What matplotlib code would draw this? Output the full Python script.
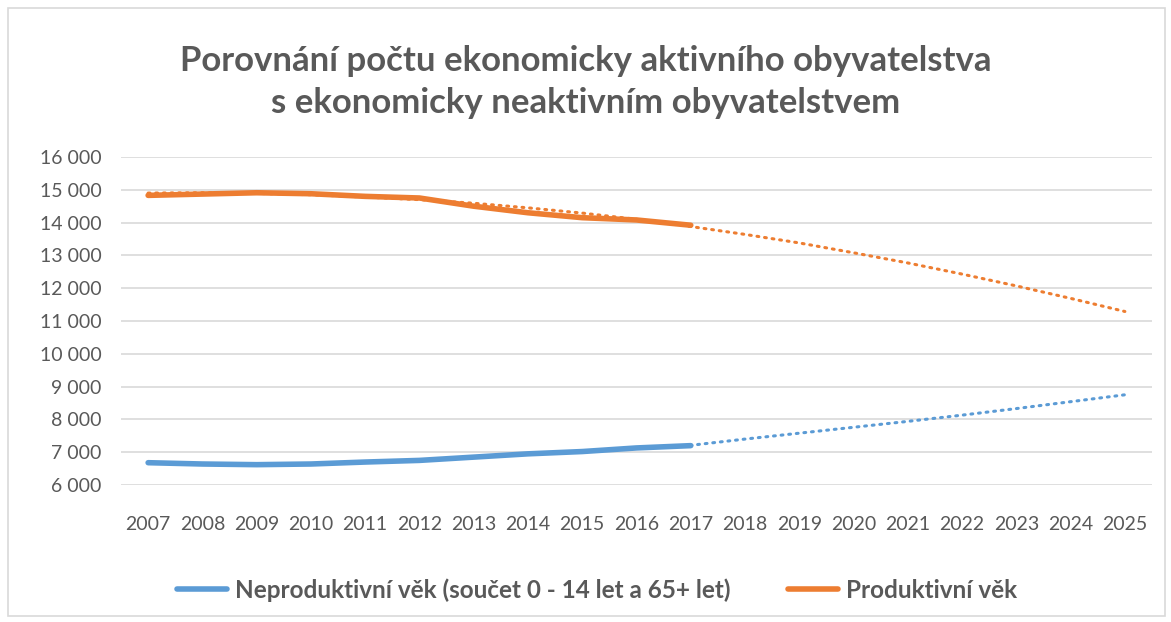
import matplotlib.pyplot as plt
from matplotlib.lines import Line2D

roky = list(range(2007, 2026))
roky_hist = list(range(2007, 2018))

# skutecne hodnoty 2007-2017
neproduktivni = [6680, 6640, 6620, 6640, 6700, 6750, 6850, 6950, 7020, 7130, 7200]
produktivni = [14830, 14870, 14910, 14880, 14800, 14750, 14500, 14300, 14150, 14080, 13920]

# spojnice trendu 2007-2025
trend_neprod = [6680, 6650, 6630, 6650, 6700, 6760, 6850, 6950, 7030, 7120, 7210,
                7400, 7580, 7760, 7940, 8130, 8330, 8540, 8750]
trend_prod = [14900, 14910, 14890, 14850, 14780, 14700, 14590, 14450, 14290, 14100, 13880,
              13640, 13380, 13080, 12770, 12430, 12070, 11690, 11290]

modra = '#5b9bd5'
oranz = '#ed7d31'
seda = '#595959'

plt.rcParams['font.family'] = ['Lato', 'DejaVu Sans']

fig = plt.figure(figsize=(11.71, 6.22), dpi=100)
ax = fig.add_axes([121 / 1171, 1 - 485 / 622, (1152 - 121) / 1171, (485 - 157) / 622])

ax.plot(roky, trend_neprod, color=modra, lw=2.2, ls=(0, (0.6, 1.9)), dash_capstyle='round', zorder=2)
ax.plot(roky, trend_prod, color=oranz, lw=2.2, ls=(0, (0.6, 1.9)), dash_capstyle='round', zorder=2)
ax.plot(roky_hist, neproduktivni, color=modra, lw=4, solid_capstyle='round', zorder=3)
ax.plot(roky_hist, produktivni, color=oranz, lw=4, solid_capstyle='round', zorder=3)

ax.set_xlim(2006.5, 2025.5)
ax.set_ylim(6000, 16000)
ax.set_yticks(range(6000, 16001, 1000))
ax.set_yticklabels([f'{v:,}'.replace(',', ' ') for v in range(6000, 16001, 1000)])
ax.set_xticks(roky)
ax.tick_params(axis='both', length=0, labelsize=14, colors=seda)
ax.tick_params(axis='y', pad=14)
ax.tick_params(axis='x', pad=22)
ax.grid(axis='y', color='#d9d9d9', lw=1.2)
ax.set_axisbelow(True)
for s in ax.spines.values():
    s.set_visible(False)

fig.text(0.5, 1 - 82 / 622, 'Porovnání počtu ekonomicky aktivního obyvatelstva\ns ekonomicky neaktivním obyvatelstvem',
         ha='center', va='center', fontsize=25, fontweight='bold', color=seda, linespacing=1.35)

handles = [Line2D([], [], color=modra, lw=4, solid_capstyle='round'),
           Line2D([], [], color=oranz, lw=4, solid_capstyle='round')]
fig.legend(handles, ['Neproduktivní věk (součet 0 - 14 let a 65+ let)', 'Produktivní věk'],
           loc='center', bbox_to_anchor=(597 / 1171, 1 - 590 / 622), ncol=2, frameon=False,
           handlelength=2.05, handletextpad=0.33, columnspacing=2.35,
           prop={'weight': 'bold', 'size': 17.5}, labelcolor=seda)

fig.patches.append(plt.Rectangle((8 / 1171, 6 / 622), 1157 / 1171, 608 / 622, transform=fig.transFigure,
                                 fill=False, edgecolor='#d9d9d9', lw=1.2))

fig.savefig('out.png', dpi=100)
